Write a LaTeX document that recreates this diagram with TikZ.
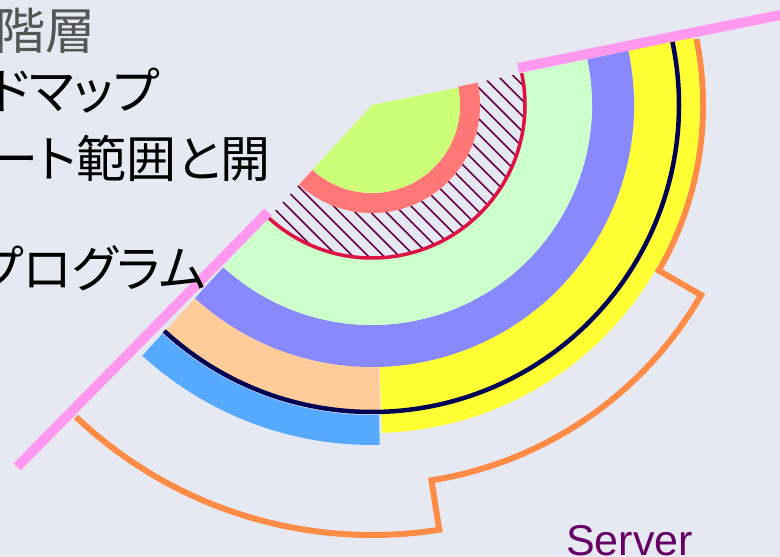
\documentclass[tikz,border=0pt]{standalone}
\usepackage{fontspec}
\setmainfont{Liberation Sans}
\newfontfamily\jpfont[RawFeature=+palt]{Noto Sans CJK JP}
\usetikzlibrary{calc}
\definecolor{bgc}{HTML}{E6E9F1}
\definecolor{pinkc}{HTML}{FF99F0}
\definecolor{limec}{HTML}{CCFF77}
\definecolor{salmonc}{HTML}{FF7777}
\definecolor{hatchc}{HTML}{660044}
\definecolor{redc}{HTML}{DD1144}
\definecolor{mintc}{HTML}{CCFFCC}
\definecolor{violetc}{HTML}{8888FF}
\definecolor{yellowc}{HTML}{FFFF33}
\definecolor{navyc}{HTML}{000055}
\definecolor{peachc}{HTML}{FFCC99}
\definecolor{bluec}{HTML}{55AAFF}
\definecolor{orangec}{HTML}{FF8C46}
\definecolor{serverc}{HTML}{660066}
\definecolor{grayt}{HTML}{555555}
\newcommand\annsec[5]{\fill[#1] (#2:#4pt) arc[start angle=#2,end angle=#3,radius=#4pt] -- (#3:#5pt) arc[start angle=#3,end angle=#2,radius=#5pt] -- cycle;}
\tikzset{
  jptext/.style={inner sep=0pt, anchor=east, font=\jpfont\fontsize{50pt}{54pt}\selectfont},
  pinkline/.style={pinkc, line width=10pt},
  outline/.style={orangec, line width=6pt, line join=miter}
}
\begin{document}
\begin{tikzpicture}[x=1pt,y=1pt]
\useasboundingbox (0,0) rectangle (780,-557);
\clip (0,0) rectangle (780,-557);
\fill[bgc] (0,0) rectangle (780,-557);
\begin{scope}[shift={(372,-105)}]
  % server outline
  \draw[outline] (-133.5:430pt) arc[start angle=-133.5,end angle=-81,radius=430pt]
     -- (-81:380pt) arc[start angle=-81,end angle=-30,radius=380pt]
     -- (-30:331pt) arc[start angle=-30,end angle=11.5,radius=331pt];
  % outer bands
  \annsec{yellowc}{-88.3}{12}{262}{328}
  \annsec{peachc}{-132.5}{-88.5}{262}{306}
  \annsec{bluec}{-132.5}{-88.7}{310}{340}
  \draw[navyc, line width=4.5pt] (-132.6:307pt) arc[start angle=-132.6,end angle=12,radius=307pt];
  \annsec{violetc}{-132.5}{12}{220}{262}
  \annsec{mintc}{-132.5}{12}{153}{220}
  % hatched band
  \begin{scope}
    \clip (-132.5:108pt) arc[start angle=-132.5,end angle=12,radius=108pt]
       -- (12:153pt) arc[start angle=12,end angle=-132.5,radius=153pt] -- cycle;
    \fill[bgc] (-200,-200) rectangle (200,100);
    \foreach \i in {-30,...,30}
      \draw[hatchc, line width=1.5pt] (\i*15.5-250,250) -- ++(500,-500);
  \end{scope}
  \draw[redc, line width=3.5pt] (-133:153pt) arc[start angle=-133,end angle=12,radius=153pt];
  \annsec{salmonc}{-132.5}{12}{88}{108}
  \fill[limec] (0,0) -- (-132.5:88pt) arc[start angle=-132.5,end angle=11.5,radius=88pt] -- cycle;
\end{scope}
% pink cut lines
\draw[pinkline] (17,-467) -- (268,-212);
\draw[pinkline] (518,-68) -- (800,-11);
% texts
\node[jptext, text=grayt] (t1) at (96,-31) {階層};
\node[jptext] (t2) at (160,-91) {ドマップ};
\node[jptext] (t3) at (271,-158) {ート範囲と開};
\node[jptext] (t4) at (206,-268) {プログラム};
\node[inner sep=0pt, anchor=base west, text=serverc, font=\fontsize{43pt}{46pt}\selectfont] (srv) at (566,-555) {Server};
\end{tikzpicture}
\end{document}
